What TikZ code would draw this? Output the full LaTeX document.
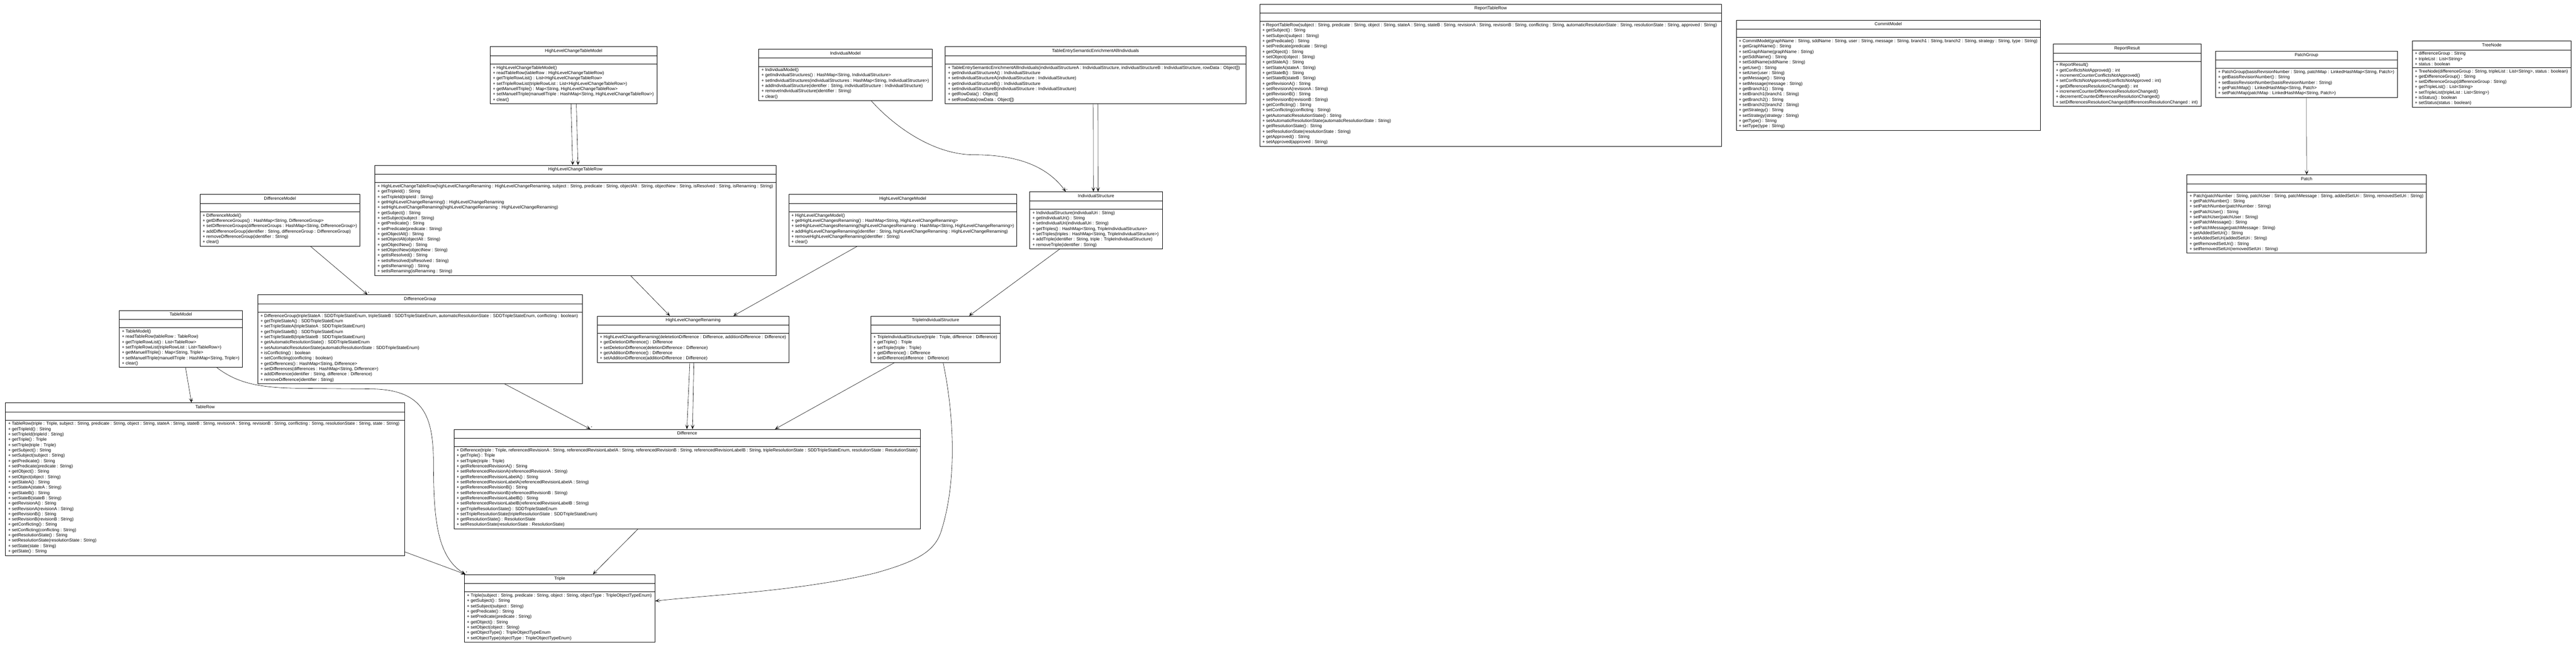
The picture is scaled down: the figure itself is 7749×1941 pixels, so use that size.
\documentclass[tikz,border=0pt]{standalone}
\usepackage{fontspec}
\setmainfont{Liberation Sans}
\usepackage{tikz}
\usetikzlibrary{arrows.meta}
\usetikzlibrary{shapes.multipart}

% titulo centrado de una clase (ancho interior en pt)
\newcommand{\titulo}[2]{\makebox[#1pt]{\strut #2}}

\begin{document}
\begin{tikzpicture}[
        x=1pt, y=-1pt,
        clase/.style={draw, line width=1.1pt, fill=white, anchor=north west,
            rectangle split, rectangle split parts=3,
            rectangle split part align={center,left,left},
            rectangle split empty part height=14pt,
            rectangle split empty part depth=0pt,
            align=left, inner xsep=8pt, inner ysep=5pt,
            font=\fontsize{13.2}{16}\selectfont},
        asoc/.style={-{Stealth[length=14pt,width=11pt,inset=8pt]}, line width=0.9pt},
        mult/.style={font=\fontsize{9}{9}\selectfont, inner sep=1pt, anchor=south west}
    ]
        \useasboundingbox (0,0) rectangle (7749,1941);

        % --- Fila superior ---
        \node[clase] (HLCTableModel) at (1474,140) {\titulo{486}{HighLevelChangeTableModel}
            \nodepart{two}
            \nodepart{three}
            + HighLevelChangeTableModel()\\
            + readTableRow(tableRow : HighLevelChangeTableRow)\\
            + getTripleRowList() : List<HighLevelChangeTableRow>\\
            + setTripleRowList(tripleRowList : List<HighLevelChangeTableRow>)\\
            + getManuellTriple() : Map<String, HighLevelChangeTableRow>\\
            + setManuellTriple(manuellTriple : HashMap<String, HighLevelChangeTableRow>)\\
            + clear()};

        \node[clase] (IndividualModel) at (2282,147) {\titulo{505}{IndividualModel}
            \nodepart{two}
            \nodepart{three}
            + IndividualModel()\\
            + getIndividualStructures() : HashMap<String, IndividualStructure>\\
            + setIndividualStructures(individualStructures : HashMap<String, IndividualStructure>)\\
            + addIndividualStructure(identifier : String, individualStructure : IndividualStructure)\\
            + removeIndividualStructure(identifier : String)\\
            + clear()};

        \node[clase] (TableEntry) at (2843,140) {\titulo{888}{TableEntrySemanticEnrichmentAllIndividuals}
            \nodepart{two}
            \nodepart{three}
            + TableEntrySemanticEnrichmentAllIndividuals(individualStructureA : IndividualStructure, individualStructureB : IndividualStructure, rowData : Object[])\\
            + getIndividualStructureA() : IndividualStructure\\
            + setIndividualStructureA(individualStructure : IndividualStructure)\\
            + getIndividualStructureB() : IndividualStructure\\
            + setIndividualStructureB(individualStructure : IndividualStructure)\\
            + getRowData() : Object[]\\
            + setRowData(rowData : Object[])};

        \node[clase] (ReportTableRow) at (3789,12) {\titulo{1373}{ReportTableRow}
            \nodepart{two}
            \nodepart{three}
            + ReportTableRow(subject : String, predicate : String, object : String, stateA : String, stateB : String, revisionA : String, revisionB : String, conflicting : String, automaticResolutionState : String, resolutionState : String, approved : String)\\
            + getSubject() : String\\
            + setSubject(subject : String)\\
            + getPredicate() : String\\
            + setPredicate(predicate : String)\\
            + getObject() : String\\
            + setObject(object : String)\\
            + getStateA() : String\\
            + setStateA(stateA : String)\\
            + getStateB() : String\\
            + setStateB(stateB : String)\\
            + getRevisionA() : String\\
            + setRevisionA(revisionA : String)\\
            + getRevisionB() : String\\
            + setRevisionB(revisionB : String)\\
            + getConflicting() : String\\
            + setConflicting(conflicting : String)\\
            + getAutomaticResolutionState() : String\\
            + setAutomaticResolutionState(automaticResolutionState : String)\\
            + getResolutionState() : String\\
            + setResolutionState(resolutionState : String)\\
            + getApproved() : String\\
            + setApproved(approved : String)};

        \node[clase] (CommitModel) at (5222,60) {\titulo{894}{CommitModel}
            \nodepart{two}
            \nodepart{three}
            + CommitModel(graphName : String, sddName : String, user : String, message : String, branch1 : String, branch2 : String, strategy : String, type : String)\\
            + getGraphName() : String\\
            + setGraphName(graphName : String)\\
            + getSddName() : String\\
            + setSddName(sddName : String)\\
            + getUser() : String\\
            + setUser(user : String)\\
            + getMessage() : String\\
            + setMessage(message : String)\\
            + getBranch1() : String\\
            + setBranch1(branch1 : String)\\
            + getBranch2() : String\\
            + setBranch2(branch2 : String)\\
            + getStrategy() : String\\
            + setStrategy(strategy : String)\\
            + getType() : String\\
            + setType(type : String)};

        \node[clase] (ReportResult) at (6176,132) {\titulo{428}{ReportResult}
            \nodepart{two}
            \nodepart{three}
            + ReportResult()\\
            + getConflictsNotApproved() : int\\
            + incrementCounterConflictsNotApproved()\\
            + setConflictsNotApproved(conflictsNotApproved : int)\\
            + getDifferencesResolutionChanged() : int\\
            + incrementCounterDifferencesResolutionChanged()\\
            + decrementCounterDifferencesResolutionChanged()\\
            + setDifferencesResolutionChanged(differencesResolutionChanged : int)};

        \node[clase] (PatchGroup) at (6664,153) {\titulo{531}{PatchGroup}
            \nodepart{two}
            \nodepart{three}
            + PatchGroup(basisRevisionNumber : String, patchMap : LinkedHashMap<String, Patch>)\\
            + getBasisRevisionNumber() : String\\
            + setBasisRevisionNumber(basisRevisionNumber : String)\\
            + getPatchMap() : LinkedHashMap<String, Patch>\\
            + setPatchMap(patchMap : LinkedHashMap<String, Patch>)};

        \node[clase] (TreeNode) at (7256,123) {\titulo{462}{TreeNode}
            \nodepart{two}
            + differenceGroup : String\\
            + tripleList : List<String>\\
            + status : boolean
            \nodepart{three}
            + TreeNode(differenceGroup : String, tripleList : List<String>, status : boolean)\\
            + getDifferenceGroup() : String\\
            + setDifferenceGroup(differenceGroup : String)\\
            + getTripleList() : List<String>\\
            + setTripleList(tripleList : List<String>)\\
            + isStatus() : boolean\\
            + setStatus(status : boolean)};

        \node[clase] (Patch) at (6578,526) {\titulo{704}{Patch}
            \nodepart{two}
            \nodepart{three}
            + Patch(patchNumber : String, patchUser : String, patchMessage : String, addedSetUri : String, removedSetUri : String)\\
            + getPatchNumber() : String\\
            + setPatchNumber(patchNumber : String)\\
            + getPatchUser() : String\\
            + setPatchUser(patchUser : String)\\
            + getPatchMessage() : String\\
            + setPatchMessage(patchMessage : String)\\
            + getAddedSetUri() : String\\
            + setAddedSetUri(addedSetUri : String)\\
            + getRemovedSetUri() : String\\
            + setRemovedSetUri(removedSetUri : String)};

        % --- Fila central ---
        \node[clase] (DifferenceModel) at (601,585) {\titulo{465}{DifferenceModel}
            \nodepart{two}
            \nodepart{three}
            + DifferenceModel()\\
            + getDifferenceGroups() : HashMap<String, DifferenceGroup>\\
            + setDifferenceGroups(differenceGroups : HashMap<String, DifferenceGroup>)\\
            + addDifferenceGroup(identifier : String, differenceGroup : DifferenceGroup)\\
            + removeDifferenceGroup(identifier : String)\\
            + clear()};

        \node[clase] (HLCTableRow) at (1127,497) {\titulo{1185}{HighLevelChangeTableRow}
            \nodepart{two}
            \nodepart{three}
            + HighLevelChangeTableRow(highLevelChangeRenaming : HighLevelChangeRenaming, subject : String, predicate : String, objectAlt : String, objectNew : String, isResolved : String, isRenaming : String)\\
            + getTripleId() : String\\
            + setTripleId(tripleId : String)\\
            + getHighLevelChangeRenaming() : HighLevelChangeRenaming\\
            + setHighLevelChangeRenaming(highLevelChangeRenaming : HighLevelChangeRenaming)\\
            + getSubject() : String\\
            + setSubject(subject : String)\\
            + getPredicate() : String\\
            + setPredicate(predicate : String)\\
            + getObjectAlt() : String\\
            + setObjectAlt(objectAlt : String)\\
            + getObjectNew() : String\\
            + setObjectNew(objectNew : String)\\
            + getIsResolved() : String\\
            + setIsResolved(isResolved : String)\\
            + getIsRenaming() : String\\
            + setIsRenaming(isRenaming : String)};

        \node[clase] (HLCModel) at (2372,585) {\titulo{665}{HighLevelChangeModel}
            \nodepart{two}
            \nodepart{three}
            + HighLevelChangeModel()\\
            + getHighLevelChangesRenaming() : HashMap<String, HighLevelChangeRenaming>\\
            + setHighLevelChangesRenaming(highLevelChangesRenaming : HashMap<String, HighLevelChangeRenaming>)\\
            + addHighLevelChangeRenaming(identifier : String, highLevelChangeRenaming : HighLevelChangeRenaming)\\
            + removeHighLevelChangeRenaming(identifier : String)\\
            + clear()};

        \node[clase] (IndividualStructure) at (3097,577) {\titulo{383}{IndividualStructure}
            \nodepart{two}
            \nodepart{three}
            + IndividualStructure(individualUri : String)\\
            + getIndividualUri() : String\\
            + setIndividualUri(individualUri : String)\\
            + getTriples() : HashMap<String, TripleIndividualStructure>\\
            + setTriples(triples : HashMap<String, TripleIndividualStructure>)\\
            + addTriple(identifier : String, triple : TripleIndividualStructure)\\
            + removeTriple(identifier : String)};

        \node[clase] (DifferenceGroup) at (775,887) {\titulo{960}{DifferenceGroup}
            \nodepart{two}
            \nodepart{three}
            + DifferenceGroup(tripleStateA : SDDTripleStateEnum, tripleStateB : SDDTripleStateEnum, automaticResolutionState : SDDTripleStateEnum, conflicting : boolean)\\
            + getTripleStateA() : SDDTripleStateEnum\\
            + setTripleStateA(tripleStateA : SDDTripleStateEnum)\\
            + getTripleStateB() : SDDTripleStateEnum\\
            + setTripleStateB(tripleStateB : SDDTripleStateEnum)\\
            + getAutomaticResolutionState() : SDDTripleStateEnum\\
            + setAutomaticResolutionState(automaticResolutionState : SDDTripleStateEnum)\\
            + isConflicting() : boolean\\
            + setConflicting(conflicting : boolean)\\
            + getDifferences() : HashMap<String, Difference>\\
            + setDifferences(differences : HashMap<String, Difference>)\\
            + addDifference(identifier : String, difference : Difference)\\
            + removeDifference(identifier : String)};

        \node[clase] (TableModel) at (358,934) {\titulo{355}{TableModel}
            \nodepart{two}
            \nodepart{three}
            + TableModel()\\
            + readTableRow(tableRow : TableRow)\\
            + getTripleRowList() : List<TableRow>\\
            + setTripleRowList(tripleRowList : List<TableRow>)\\
            + getManuellTriple() : Map<String, Triple>\\
            + setManuellTriple(manuellTriple : HashMap<String, Triple>)\\
            + clear()};

        \node[clase] (HLCRenaming) at (1796,951) {\titulo{561}{HighLevelChangeRenaming}
            \nodepart{two}
            \nodepart{three}
            + HighLevelChangeRenaming(deletetionDifference : Difference, additionDifference : Difference)\\
            + getDeletionDifference() : Difference\\
            + setDeletionDifference(deletionDifference : Difference)\\
            + getAdditionDifference() : Difference\\
            + setAdditionDifference(additionDifference : Difference)};

        \node[clase] (TripleIS) at (2619,951) {\titulo{373}{TripleIndividualStructure}
            \nodepart{two}
            \nodepart{three}
            + TripleIndividualStructure(triple : Triple, difference : Difference)\\
            + getTriple() : Triple\\
            + setTriple(triple : Triple)\\
            + getDifference() : Difference\\
            + setDifference(difference : Difference)};

        % --- Fila inferior ---
        \node[clase] (TableRow) at (16,1212) {\titulo{1185}{TableRow}
            \nodepart{two}
            \nodepart{three}
            + TableRow(triple : Triple, subject : String, predicate : String, object : String, stateA : String, stateB : String, revisionA : String, revisionB : String, conflicting : String, resolutionState : String, state : String)\\
            + getTripleId() : String\\
            + setTripleId(tripleId : String)\\
            + getTriple() : Triple\\
            + setTriple(triple : Triple)\\
            + getSubject() : String\\
            + setSubject(subject : String)\\
            + getPredicate() : String\\
            + setPredicate(predicate : String)\\
            + getObject() : String\\
            + setObject(object : String)\\
            + getStateA() : String\\
            + setStateA(stateA : String)\\
            + getStateB() : String\\
            + setStateB(stateB : String)\\
            + getRevisionA() : String\\
            + setRevisionA(revisionA : String)\\
            + getRevisionB() : String\\
            + setRevisionB(revisionB : String)\\
            + getConflicting() : String\\
            + setConflicting(conflicting : String)\\
            + getResolutionState() : String\\
            + setResolutionState(resolutionState : String)\\
            + setState(state : String)\\
            + getState() : String};

        \node[clase] (Difference) at (1365,1292) {\titulo{1386}{Difference}
            \nodepart{two}
            \nodepart{three}
            + Difference(triple : Triple, referencedRevisionA : String, referencedRevisionLabelA : String, referencedRevisionB : String, referencedRevisionLabelB : String, tripleResolutionState : SDDTripleStateEnum, resolutionState : ResolutionState)\\
            + getTriple() : Triple\\
            + setTriple(triple : Triple)\\
            + getReferencedRevisionA() : String\\
            + setReferencedRevisionA(referencedRevisionA : String)\\
            + getReferencedRevisionLabelA() : String\\
            + setReferencedRevisionLabelA(referencedRevisionLabelA : String)\\
            + getReferencedRevisionB() : String\\
            + setReferencedRevisionB(referencedRevisionB : String)\\
            + getReferencedRevisionLabelB() : String\\
            + setReferencedRevisionLabelB(referencedRevisionLabelB : String)\\
            + getTripleResolutionState() : SDDTripleStateEnum\\
            + setTripleResolutionState(tripleResolutionState : SDDTripleStateEnum)\\
            + getResolutionState() : ResolutionState\\
            + setResolutionState(resolutionState : ResolutionState)};

        \node[clase] (Triple) at (1396,1729) {\titulo{558}{Triple}
            \nodepart{two}
            \nodepart{three}
            + Triple(subject : String, predicate : String, object : String, objectType : TripleObjectTypeEnum)\\
            + getSubject() : String\\
            + setSubject(subject : String)\\
            + getPredicate() : String\\
            + setPredicate(predicate : String)\\
            + getObject() : String\\
            + setObject(object : String)\\
            + getObjectType() : TripleObjectTypeEnum\\
            + setObjectType(objectType : TripleObjectTypeEnum)};

        % --- Asociaciones ---
        \draw[asoc] ([xshift=-8pt]HLCTableModel.south) -- ([xshift=-8pt]HLCTableRow.north) node[mult] {*};
        \draw[asoc] ([xshift=8pt]HLCTableModel.south) -- ([xshift=8pt]HLCTableRow.north) node[mult] {*};
        \draw[asoc] ([xshift=92pt]DifferenceModel.south) -- ([xshift=-158pt]DifferenceGroup.north) node[mult] {*};
        \draw[asoc] ([xshift=14pt]TableModel.south) -- ([xshift=-41pt]TableRow.north) node[mult] {*};
        % curva de TableModel hasta Triple
        \draw[asoc] ([xshift=108pt]TableModel.south) .. controls (710,1150) and (770,1168) .. (900,1169)
            -- (1120,1171) .. controls (1280,1174) and (1304,1260) .. (1304,1400)
            .. controls (1304,1580) and (1320,1680) .. ([xshift=4pt]Triple.north west) node[mult] {*};
        \draw[asoc] ([yshift=11pt]TableRow.south east) -- ([xshift=4pt]Triple.north west);
        \draw[asoc] ([xshift=166pt]HLCTableRow.south) -- ([xshift=-70pt]HLCRenaming.north);
        \draw[asoc] ([xshift=-137pt]HLCModel.south) -- ([xshift=121pt]HLCRenaming.north) node[mult] {*};
        \draw[asoc] ([xshift=-10pt]HLCRenaming.south) -- ([xshift=-1pt]Difference.north);
        \draw[asoc] ([xshift=2pt]HLCRenaming.south) -- ([xshift=16pt]Difference.north);
        \draw[asoc] ([xshift=254pt]DifferenceGroup.south) -- ([xshift=-291pt]Difference.north) node[mult] {*};
        \draw[asoc] ([xshift=-123pt]TripleIS.south) -- ([xshift=264pt]Difference.north);
        \draw[asoc] ([xshift=-148pt]Difference.south) -- ([xshift=100pt]Triple.north);
        % curva de TripleIndividualStructure hasta Triple
        \draw[asoc] ([xshift=23pt]TripleIS.south) .. controls (2870,1250) and (2880,1450) .. (2830,1603)
            .. controls (2810,1660) and (2760,1690) .. (2630,1726)
            .. controls (2400,1780) and (2150,1790) .. ([yshift=22pt]Triple.east);
        % curva de IndividualModel hasta IndividualStructure
        \draw[asoc] ([xshift=78pt]IndividualModel.south) .. controls (2680,370) and (2800,466) .. (2930,466)
            .. controls (3060,466) and (3150,500) .. ([xshift=-91pt]IndividualStructure.north) node[mult] {*};
        \draw[asoc] ([xshift=-7pt]TableEntry.south) -- ([xshift=-8pt]IndividualStructure.north);
        \draw[asoc] ([xshift=7pt]TableEntry.south) -- ([xshift=6pt]IndividualStructure.north);
        \draw[asoc] ([xshift=-109pt]IndividualStructure.south) -- ([xshift=101pt]TripleIS.north) node[mult] {*};
        \draw[asoc] (PatchGroup.south) -- (Patch.north) node[mult] {*};

    \end{tikzpicture}
\end{document}
